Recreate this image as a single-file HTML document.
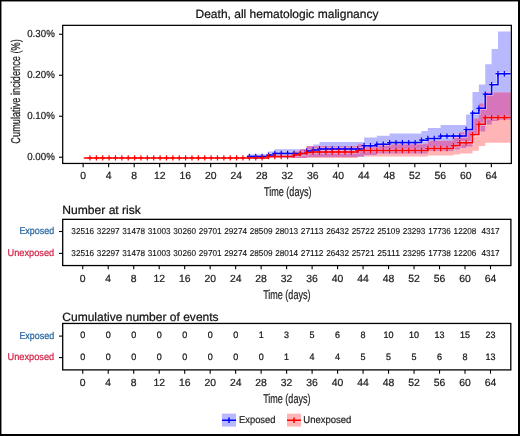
<!DOCTYPE html>
<html><head><meta charset="utf-8"><style>
html,body{margin:0;padding:0;background:#fff;}
body{width:520px;height:436px;overflow:hidden;position:relative;}
svg{position:absolute;left:0;top:0;font-family:'Liberation Sans',sans-serif;will-change:transform;}
svg text{font-family:'Liberation Sans',sans-serif;text-rendering:geometricPrecision;}
</style></head><body>
<svg width="520" height="436" viewBox="0 0 520 436">
<rect x="0" y="0" width="520" height="436" fill="#fff"/>
<path d="M248.80,154.20 L268.48,154.20 L268.48,151.60 L274.85,151.60 L274.85,149.30 L306.73,149.30 L306.73,146.30 L313.10,146.30 L313.10,144.40 L319.48,144.40 L319.48,142.00 L364.10,142.00 L364.10,137.60 L376.85,137.60 L376.85,135.70 L389.60,135.70 L389.60,133.40 L421.48,133.40 L421.48,131.00 L427.85,131.00 L427.85,127.90 L440.60,127.90 L440.60,125.10 L453.35,125.10 L453.35,125.10 L459.73,125.10 L459.73,125.10 L466.10,125.10 L466.10,114.60 L472.48,114.60 L472.48,92.10 L478.85,92.10 L478.85,84.40 L485.23,84.40 L485.23,64.20 L491.60,64.20 L491.60,49.10 L497.98,49.10 L497.98,31.50 L510.60,31.50 L510.60,119.90 L497.98,119.90 L497.98,120.90 L491.60,120.90 L491.60,124.40 L485.23,124.40 L485.23,131.60 L478.85,131.60 L478.85,134.30 L472.48,134.30 L472.48,146.50 L466.10,146.50 L466.10,148.00 L459.73,148.00 L459.73,149.50 L453.35,149.50 L453.35,151.00 L440.60,151.00 L440.60,151.00 L427.85,151.00 L427.85,153.60 L421.48,153.60 L421.48,153.60 L389.60,153.60 L389.60,153.60 L376.85,153.60 L376.85,155.00 L364.10,155.00 L364.10,157.00 L319.48,157.00 L319.48,157.00 L313.10,157.00 L313.10,157.00 L306.73,157.00 L306.73,157.90 L274.85,157.90 L274.85,157.90 L268.48,157.90 L268.48,157.90 L248.80,157.90Z" fill="rgb(184,184,255)"/>
<path d="M268.48,154.80 L293.98,154.80 L293.98,151.20 L300.35,151.20 L300.35,149.30 L306.73,149.30 L306.73,146.30 L357.73,146.30 L357.73,144.20 L364.10,144.20 L364.10,145.00 L389.60,145.00 L389.60,143.80 L427.85,143.80 L427.85,140.70 L453.35,140.70 L453.35,137.20 L459.73,137.20 L459.73,132.20 L466.10,132.20 L466.10,130.00 L472.48,130.00 L472.48,118.60 L478.85,118.60 L478.85,103.50 L485.23,103.50 L485.23,92.50 L510.60,92.50 L510.60,142.70 L485.23,142.70 L485.23,145.90 L478.85,145.90 L478.85,150.80 L472.48,150.80 L472.48,153.50 L466.10,153.50 L466.10,153.50 L459.73,153.50 L459.73,154.60 L453.35,154.60 L453.35,155.60 L427.85,155.60 L427.85,156.60 L389.60,156.60 L389.60,156.60 L364.10,156.60 L364.10,156.60 L357.73,156.60 L357.73,157.90 L306.73,157.90 L306.73,157.90 L300.35,157.90 L300.35,157.90 L293.98,157.90 L293.98,157.90 L268.48,157.90Z" fill="rgb(255,181,181)"/>
<path d="M268.48,154.80H274.85V157.90H268.48ZM274.85,154.80H293.98V157.90H274.85ZM293.98,151.20H300.35V157.90H293.98ZM300.35,149.30H306.73V157.90H300.35ZM306.73,146.30H313.10V157.00H306.73ZM313.10,146.30H319.48V157.00H313.10ZM319.48,146.30H357.73V157.00H319.48ZM357.73,144.20H364.10V156.60H357.73ZM364.10,145.00H376.85V155.00H364.10ZM376.85,145.00H389.60V153.60H376.85ZM389.60,143.80H421.48V153.60H389.60ZM421.48,143.80H427.85V153.60H421.48ZM427.85,140.70H440.60V151.00H427.85ZM440.60,140.70H453.35V151.00H440.60ZM453.35,137.20H459.73V149.50H453.35ZM459.73,132.20H466.10V148.00H459.73ZM466.10,130.00H472.48V146.50H466.10ZM472.48,118.60H478.85V134.30H472.48ZM478.85,103.50H485.23V131.60H478.85ZM485.23,92.50H491.60V124.40H485.23ZM491.60,92.50H497.98V120.90H491.60ZM497.98,92.50H510.60V119.90H497.98Z" fill="rgb(214,117,186)"/>
<path d="M247.00,156.40H268.48V155.10H274.85V153.40H306.73V151.00H313.10V150.00H319.48V149.00H364.10V145.70H376.85V144.30H389.60V142.60H421.48V140.20H427.85V138.50H440.60V136.10H466.10V129.50H472.48V113.20H478.85V108.30H485.23V94.20H491.60V84.70H497.98V73.70H510.60" fill="none" stroke="#fff" stroke-opacity="0.35" stroke-width="3.6"/>
<path d="M83.80,157.90H268.48V156.50H293.98V155.00H300.35V153.60H306.73V152.50H313.10V152.00H357.73V150.50H427.85V148.50H453.35V145.60H459.73V142.70H472.48V134.60H478.85V124.30H485.23V117.60H510.60" fill="none" stroke="#fff" stroke-opacity="0.35" stroke-width="3.6"/>
<path d="M247.00,156.40H268.48V155.10H274.85V153.40H306.73V151.00H313.10V150.00H319.48V149.00H364.10V145.70H376.85V144.30H389.60V142.60H421.48V140.20H427.85V138.50H440.60V136.10H466.10V129.50H472.48V113.20H478.85V108.30H485.23V94.20H491.60V84.70H497.98V73.70H510.60" fill="none" stroke="#0000ff" stroke-width="1.5"/>
<path d="M83.80,157.90H268.48V156.50H293.98V155.00H300.35V153.60H306.73V152.50H313.10V152.00H357.73V150.50H427.85V148.50H453.35V145.60H459.73V142.70H472.48V134.60H478.85V124.30H485.23V117.60H510.60" fill="none" stroke="#ff0000" stroke-width="1.5"/>
<path d="M249.35,153.70V159.10M246.85,156.40H251.85M255.72,153.70V159.10M253.22,156.40H258.23M262.10,153.70V159.10M259.60,156.40H264.60M268.48,152.40V157.80M265.98,155.10H270.98M274.85,150.70V156.10M272.35,153.40H277.35M281.23,150.70V156.10M278.73,153.40H283.73M287.60,150.70V156.10M285.10,153.40H290.10M293.98,150.70V156.10M291.48,153.40H296.48M300.35,150.70V156.10M297.85,153.40H302.85M306.73,148.30V153.70M304.23,151.00H309.23M313.10,147.30V152.70M310.60,150.00H315.60M319.48,146.30V151.70M316.98,149.00H321.98M325.85,146.30V151.70M323.35,149.00H328.35M332.23,146.30V151.70M329.73,149.00H334.73M338.60,146.30V151.70M336.10,149.00H341.10M344.98,146.30V151.70M342.48,149.00H347.48M351.35,146.30V151.70M348.85,149.00H353.85M357.73,146.30V151.70M355.23,149.00H360.23M364.10,143.00V148.40M361.60,145.70H366.60M370.48,143.00V148.40M367.98,145.70H372.98M376.85,141.60V147.00M374.35,144.30H379.35M383.23,141.60V147.00M380.73,144.30H385.73M389.60,139.90V145.30M387.10,142.60H392.10M395.98,139.90V145.30M393.48,142.60H398.48M402.35,139.90V145.30M399.85,142.60H404.85M408.73,139.90V145.30M406.23,142.60H411.23M415.10,139.90V145.30M412.60,142.60H417.60M421.48,137.50V142.90M418.98,140.20H423.98M427.85,135.80V141.20M425.35,138.50H430.35M434.23,135.80V141.20M431.73,138.50H436.73M440.60,133.40V138.80M438.10,136.10H443.10M446.98,133.40V138.80M444.48,136.10H449.48M453.35,133.40V138.80M450.85,136.10H455.85M459.73,133.40V138.80M457.23,136.10H462.23M466.10,126.80V132.20M463.60,129.50H468.60M472.48,110.50V115.90M469.98,113.20H474.98M478.85,105.60V111.00M476.35,108.30H481.35M485.23,91.50V96.90M482.73,94.20H487.73M491.60,82.00V87.40M489.10,84.70H494.10M497.98,71.00V76.40M495.48,73.70H500.48M504.35,71.00V76.40M501.85,73.70H506.85" stroke="#0000ff" stroke-width="1.2" fill="none"/>
<path d="M89.97,155.20V160.60M87.47,157.90H92.47M96.35,155.20V160.60M93.85,157.90H98.85M102.72,155.20V160.60M100.22,157.90H105.22M109.10,155.20V160.60M106.60,157.90H111.60M115.47,155.20V160.60M112.97,157.90H117.97M121.85,155.20V160.60M119.35,157.90H124.35M128.22,155.20V160.60M125.72,157.90H130.72M134.60,155.20V160.60M132.10,157.90H137.10M140.97,155.20V160.60M138.47,157.90H143.47M147.35,155.20V160.60M144.85,157.90H149.85M153.72,155.20V160.60M151.22,157.90H156.22M160.10,155.20V160.60M157.60,157.90H162.60M166.47,155.20V160.60M163.97,157.90H168.97M172.85,155.20V160.60M170.35,157.90H175.35M179.22,155.20V160.60M176.72,157.90H181.72M185.60,155.20V160.60M183.10,157.90H188.10M191.97,155.20V160.60M189.47,157.90H194.47M198.35,155.20V160.60M195.85,157.90H200.85M204.72,155.20V160.60M202.22,157.90H207.22M211.10,155.20V160.60M208.60,157.90H213.60M217.47,155.20V160.60M214.97,157.90H219.97M223.85,155.20V160.60M221.35,157.90H226.35M230.22,155.20V160.60M227.72,157.90H232.72M236.60,155.20V160.60M234.10,157.90H239.10M242.97,155.20V160.60M240.47,157.90H245.47M249.35,155.20V160.60M246.85,157.90H251.85M255.72,155.20V160.60M253.22,157.90H258.23M262.10,155.20V160.60M259.60,157.90H264.60M268.48,153.80V159.20M265.98,156.50H270.98M274.85,153.80V159.20M272.35,156.50H277.35M281.23,153.80V159.20M278.73,156.50H283.73M287.60,153.80V159.20M285.10,156.50H290.10M293.98,152.30V157.70M291.48,155.00H296.48M300.35,150.90V156.30M297.85,153.60H302.85M306.73,149.80V155.20M304.23,152.50H309.23M313.10,149.30V154.70M310.60,152.00H315.60M319.48,149.30V154.70M316.98,152.00H321.98M325.85,149.30V154.70M323.35,152.00H328.35M332.23,149.30V154.70M329.73,152.00H334.73M338.60,149.30V154.70M336.10,152.00H341.10M344.98,149.30V154.70M342.48,152.00H347.48M351.35,149.30V154.70M348.85,152.00H353.85M357.73,147.80V153.20M355.23,150.50H360.23M364.10,147.80V153.20M361.60,150.50H366.60M370.48,147.80V153.20M367.98,150.50H372.98M376.85,147.80V153.20M374.35,150.50H379.35M383.23,147.80V153.20M380.73,150.50H385.73M389.60,147.80V153.20M387.10,150.50H392.10M395.98,147.80V153.20M393.48,150.50H398.48M402.35,147.80V153.20M399.85,150.50H404.85M408.73,147.80V153.20M406.23,150.50H411.23M415.10,147.80V153.20M412.60,150.50H417.60M421.48,147.80V153.20M418.98,150.50H423.98M427.85,145.80V151.20M425.35,148.50H430.35M434.23,145.80V151.20M431.73,148.50H436.73M440.60,145.80V151.20M438.10,148.50H443.10M446.98,145.80V151.20M444.48,148.50H449.48M453.35,142.90V148.30M450.85,145.60H455.85M459.73,140.00V145.40M457.23,142.70H462.23M466.10,140.00V145.40M463.60,142.70H468.60M472.48,131.90V137.30M469.98,134.60H474.98M478.85,121.60V127.00M476.35,124.30H481.35M485.23,114.90V120.30M482.73,117.60H487.73M491.60,114.90V120.30M489.10,117.60H494.10M497.98,114.90V120.30M495.48,117.60H500.48M504.35,114.90V120.30M501.85,117.60H506.85" stroke="#ff0000" stroke-width="1.2" fill="none"/>
<text x="287" y="17.6" font-size="11.95" text-anchor="middle" fill="#111" stroke="#111" stroke-width="0.22" textLength="183" lengthAdjust="spacingAndGlyphs" >Death, all hematologic malignancy</text>
<text transform="translate(20.0,91.45) rotate(-90)" x="0" y="0" font-size="12.8" text-anchor="middle" fill="#222" stroke="#222" stroke-width="0.22" textLength="104.4" lengthAdjust="spacingAndGlyphs">Cumulative incidence (%)</text>
<text x="54.8" y="160.25" font-size="10.2" text-anchor="end" fill="#222" stroke="#222" stroke-width="0.22" textLength="27.6" lengthAdjust="spacingAndGlyphs" >0.00%</text>
<path d="M59,157.25H62.6" stroke="#000" stroke-width="1.1"/>
<text x="54.8" y="119.25" font-size="10.2" text-anchor="end" fill="#222" stroke="#222" stroke-width="0.22" textLength="27.6" lengthAdjust="spacingAndGlyphs" >0.10%</text>
<path d="M59,116.25H62.6" stroke="#000" stroke-width="1.1"/>
<text x="54.8" y="78.25" font-size="10.2" text-anchor="end" fill="#222" stroke="#222" stroke-width="0.22" textLength="27.6" lengthAdjust="spacingAndGlyphs" >0.20%</text>
<path d="M59,75.25H62.6" stroke="#000" stroke-width="1.1"/>
<text x="54.8" y="37.25" font-size="10.2" text-anchor="end" fill="#222" stroke="#222" stroke-width="0.22" textLength="27.6" lengthAdjust="spacingAndGlyphs" >0.30%</text>
<path d="M59,34.25H62.6" stroke="#000" stroke-width="1.1"/>
<rect x="62.7" y="25.35" width="448.65" height="138.1" fill="none" stroke="#000" stroke-width="1.25"/>
<path d="M83.15,163.50V167.30" stroke="#000" stroke-width="1.1"/>
<text x="83.15" y="178.7" font-size="10.4" text-anchor="middle" fill="#222" stroke="#222" stroke-width="0.22" >0</text>
<path d="M108.66,163.50V167.30" stroke="#000" stroke-width="1.1"/>
<text x="108.66" y="178.7" font-size="10.4" text-anchor="middle" fill="#222" stroke="#222" stroke-width="0.22" >4</text>
<path d="M134.18,163.50V167.30" stroke="#000" stroke-width="1.1"/>
<text x="134.18" y="178.7" font-size="10.4" text-anchor="middle" fill="#222" stroke="#222" stroke-width="0.22" >8</text>
<path d="M159.69,163.50V167.30" stroke="#000" stroke-width="1.1"/>
<text x="159.69" y="178.7" font-size="10.4" text-anchor="middle" fill="#222" stroke="#222" stroke-width="0.22" >12</text>
<path d="M185.20,163.50V167.30" stroke="#000" stroke-width="1.1"/>
<text x="185.2" y="178.7" font-size="10.4" text-anchor="middle" fill="#222" stroke="#222" stroke-width="0.22" >16</text>
<path d="M210.71,163.50V167.30" stroke="#000" stroke-width="1.1"/>
<text x="210.71" y="178.7" font-size="10.4" text-anchor="middle" fill="#222" stroke="#222" stroke-width="0.22" >20</text>
<path d="M236.23,163.50V167.30" stroke="#000" stroke-width="1.1"/>
<text x="236.23" y="178.7" font-size="10.4" text-anchor="middle" fill="#222" stroke="#222" stroke-width="0.22" >24</text>
<path d="M261.74,163.50V167.30" stroke="#000" stroke-width="1.1"/>
<text x="261.74" y="178.7" font-size="10.4" text-anchor="middle" fill="#222" stroke="#222" stroke-width="0.22" >28</text>
<path d="M287.25,163.50V167.30" stroke="#000" stroke-width="1.1"/>
<text x="287.25" y="178.7" font-size="10.4" text-anchor="middle" fill="#222" stroke="#222" stroke-width="0.22" >32</text>
<path d="M312.76,163.50V167.30" stroke="#000" stroke-width="1.1"/>
<text x="312.76" y="178.7" font-size="10.4" text-anchor="middle" fill="#222" stroke="#222" stroke-width="0.22" >36</text>
<path d="M338.28,163.50V167.30" stroke="#000" stroke-width="1.1"/>
<text x="338.28" y="178.7" font-size="10.4" text-anchor="middle" fill="#222" stroke="#222" stroke-width="0.22" >40</text>
<path d="M363.79,163.50V167.30" stroke="#000" stroke-width="1.1"/>
<text x="363.79" y="178.7" font-size="10.4" text-anchor="middle" fill="#222" stroke="#222" stroke-width="0.22" >44</text>
<path d="M389.30,163.50V167.30" stroke="#000" stroke-width="1.1"/>
<text x="389.3" y="178.7" font-size="10.4" text-anchor="middle" fill="#222" stroke="#222" stroke-width="0.22" >48</text>
<path d="M414.81,163.50V167.30" stroke="#000" stroke-width="1.1"/>
<text x="414.81" y="178.7" font-size="10.4" text-anchor="middle" fill="#222" stroke="#222" stroke-width="0.22" >52</text>
<path d="M440.33,163.50V167.30" stroke="#000" stroke-width="1.1"/>
<text x="440.33" y="178.7" font-size="10.4" text-anchor="middle" fill="#222" stroke="#222" stroke-width="0.22" >56</text>
<path d="M465.84,163.50V167.30" stroke="#000" stroke-width="1.1"/>
<text x="465.84" y="178.7" font-size="10.4" text-anchor="middle" fill="#222" stroke="#222" stroke-width="0.22" >60</text>
<path d="M491.35,163.50V167.30" stroke="#000" stroke-width="1.1"/>
<text x="491.35" y="178.7" font-size="10.4" text-anchor="middle" fill="#222" stroke="#222" stroke-width="0.22" >64</text>
<text x="287.75" y="195.6" font-size="12.8" text-anchor="middle" fill="#222" stroke="#222" stroke-width="0.22" textLength="47.6" lengthAdjust="spacingAndGlyphs" >Time (days)</text>
<text x="62.3" y="213.8" font-size="11.92" text-anchor="start" fill="#111" stroke="#111" stroke-width="0.22" textLength="78.6" lengthAdjust="spacingAndGlyphs" >Number at risk</text>
<rect x="62.7" y="219.35" width="448.2" height="46.2" fill="none" stroke="#000" stroke-width="1.3"/>
<text x="54.2" y="234.3" font-size="9.8" text-anchor="end" fill="rgb(35,100,160)" stroke="rgb(35,100,160)" stroke-width="0.22" textLength="34.8" lengthAdjust="spacingAndGlyphs" >Exposed</text>
<path d="M59,231.5H62.6" stroke="#000" stroke-width="1.1"/>
<text x="54.2" y="256.2" font-size="9.8" text-anchor="end" fill="rgb(210,30,70)" stroke="rgb(210,30,70)" stroke-width="0.22" textLength="46.6" lengthAdjust="spacingAndGlyphs" >Unexposed</text>
<path d="M59,253.4H62.6" stroke="#000" stroke-width="1.1"/>
<text x="82.75" y="234.35" font-size="8.6" text-anchor="middle" fill="#111" stroke="#111" stroke-width="0.12" textLength="22.8" lengthAdjust="spacingAndGlyphs" >32516</text>
<text x="82.75" y="256.1" font-size="8.6" text-anchor="middle" fill="#111" stroke="#111" stroke-width="0.12" textLength="22.8" lengthAdjust="spacingAndGlyphs" >32516</text>
<text x="108.23" y="234.35" font-size="8.6" text-anchor="middle" fill="#111" stroke="#111" stroke-width="0.12" textLength="22.8" lengthAdjust="spacingAndGlyphs" >32297</text>
<text x="108.23" y="256.1" font-size="8.6" text-anchor="middle" fill="#111" stroke="#111" stroke-width="0.12" textLength="22.8" lengthAdjust="spacingAndGlyphs" >32297</text>
<text x="133.72" y="234.35" font-size="8.6" text-anchor="middle" fill="#111" stroke="#111" stroke-width="0.12" textLength="22.8" lengthAdjust="spacingAndGlyphs" >31478</text>
<text x="133.72" y="256.1" font-size="8.6" text-anchor="middle" fill="#111" stroke="#111" stroke-width="0.12" textLength="22.8" lengthAdjust="spacingAndGlyphs" >31478</text>
<text x="159.2" y="234.35" font-size="8.6" text-anchor="middle" fill="#111" stroke="#111" stroke-width="0.12" textLength="22.8" lengthAdjust="spacingAndGlyphs" >31003</text>
<text x="159.2" y="256.1" font-size="8.6" text-anchor="middle" fill="#111" stroke="#111" stroke-width="0.12" textLength="22.8" lengthAdjust="spacingAndGlyphs" >31003</text>
<text x="184.69" y="234.35" font-size="8.6" text-anchor="middle" fill="#111" stroke="#111" stroke-width="0.12" textLength="22.8" lengthAdjust="spacingAndGlyphs" >30260</text>
<text x="184.69" y="256.1" font-size="8.6" text-anchor="middle" fill="#111" stroke="#111" stroke-width="0.12" textLength="22.8" lengthAdjust="spacingAndGlyphs" >30260</text>
<text x="210.17" y="234.35" font-size="8.6" text-anchor="middle" fill="#111" stroke="#111" stroke-width="0.12" textLength="22.8" lengthAdjust="spacingAndGlyphs" >29701</text>
<text x="210.17" y="256.1" font-size="8.6" text-anchor="middle" fill="#111" stroke="#111" stroke-width="0.12" textLength="22.8" lengthAdjust="spacingAndGlyphs" >29701</text>
<text x="235.66" y="234.35" font-size="8.6" text-anchor="middle" fill="#111" stroke="#111" stroke-width="0.12" textLength="22.8" lengthAdjust="spacingAndGlyphs" >29274</text>
<text x="235.66" y="256.1" font-size="8.6" text-anchor="middle" fill="#111" stroke="#111" stroke-width="0.12" textLength="22.8" lengthAdjust="spacingAndGlyphs" >29274</text>
<text x="261.14" y="234.35" font-size="8.6" text-anchor="middle" fill="#111" stroke="#111" stroke-width="0.12" textLength="22.8" lengthAdjust="spacingAndGlyphs" >28509</text>
<text x="261.14" y="256.1" font-size="8.6" text-anchor="middle" fill="#111" stroke="#111" stroke-width="0.12" textLength="22.8" lengthAdjust="spacingAndGlyphs" >28509</text>
<text x="286.62" y="234.35" font-size="8.6" text-anchor="middle" fill="#111" stroke="#111" stroke-width="0.12" textLength="22.8" lengthAdjust="spacingAndGlyphs" >28013</text>
<text x="286.62" y="256.1" font-size="8.6" text-anchor="middle" fill="#111" stroke="#111" stroke-width="0.12" textLength="22.8" lengthAdjust="spacingAndGlyphs" >28014</text>
<text x="312.11" y="234.35" font-size="8.6" text-anchor="middle" fill="#111" stroke="#111" stroke-width="0.12" textLength="22.8" lengthAdjust="spacingAndGlyphs" >27113</text>
<text x="312.11" y="256.1" font-size="8.6" text-anchor="middle" fill="#111" stroke="#111" stroke-width="0.12" textLength="22.8" lengthAdjust="spacingAndGlyphs" >27112</text>
<text x="337.59" y="234.35" font-size="8.6" text-anchor="middle" fill="#111" stroke="#111" stroke-width="0.12" textLength="22.8" lengthAdjust="spacingAndGlyphs" >26432</text>
<text x="337.59" y="256.1" font-size="8.6" text-anchor="middle" fill="#111" stroke="#111" stroke-width="0.12" textLength="22.8" lengthAdjust="spacingAndGlyphs" >26432</text>
<text x="363.08" y="234.35" font-size="8.6" text-anchor="middle" fill="#111" stroke="#111" stroke-width="0.12" textLength="22.8" lengthAdjust="spacingAndGlyphs" >25722</text>
<text x="363.08" y="256.1" font-size="8.6" text-anchor="middle" fill="#111" stroke="#111" stroke-width="0.12" textLength="22.8" lengthAdjust="spacingAndGlyphs" >25721</text>
<text x="388.56" y="234.35" font-size="8.6" text-anchor="middle" fill="#111" stroke="#111" stroke-width="0.12" textLength="22.8" lengthAdjust="spacingAndGlyphs" >25109</text>
<text x="388.56" y="256.1" font-size="8.6" text-anchor="middle" fill="#111" stroke="#111" stroke-width="0.12" textLength="22.8" lengthAdjust="spacingAndGlyphs" >25111</text>
<text x="414.05" y="234.35" font-size="8.6" text-anchor="middle" fill="#111" stroke="#111" stroke-width="0.12" textLength="22.8" lengthAdjust="spacingAndGlyphs" >23293</text>
<text x="414.05" y="256.1" font-size="8.6" text-anchor="middle" fill="#111" stroke="#111" stroke-width="0.12" textLength="22.8" lengthAdjust="spacingAndGlyphs" >23295</text>
<text x="439.53" y="234.35" font-size="8.6" text-anchor="middle" fill="#111" stroke="#111" stroke-width="0.12" textLength="22.8" lengthAdjust="spacingAndGlyphs" >17736</text>
<text x="439.53" y="256.1" font-size="8.6" text-anchor="middle" fill="#111" stroke="#111" stroke-width="0.12" textLength="22.8" lengthAdjust="spacingAndGlyphs" >17738</text>
<text x="465.02" y="234.35" font-size="8.6" text-anchor="middle" fill="#111" stroke="#111" stroke-width="0.12" textLength="22.8" lengthAdjust="spacingAndGlyphs" >12208</text>
<text x="465.02" y="256.1" font-size="8.6" text-anchor="middle" fill="#111" stroke="#111" stroke-width="0.12" textLength="22.8" lengthAdjust="spacingAndGlyphs" >12206</text>
<text x="490.5" y="234.35" font-size="8.6" text-anchor="middle" fill="#111" stroke="#111" stroke-width="0.12" textLength="18.24" lengthAdjust="spacingAndGlyphs" >4317</text>
<text x="490.5" y="256.1" font-size="8.6" text-anchor="middle" fill="#111" stroke="#111" stroke-width="0.12" textLength="18.24" lengthAdjust="spacingAndGlyphs" >4317</text>
<path d="M82.75,265.50V269.30" stroke="#000" stroke-width="1.1"/>
<text x="82.75" y="282.0" font-size="10.4" text-anchor="middle" fill="#222" stroke="#222" stroke-width="0.22" >0</text>
<path d="M108.23,265.50V269.30" stroke="#000" stroke-width="1.1"/>
<text x="108.23" y="282.0" font-size="10.4" text-anchor="middle" fill="#222" stroke="#222" stroke-width="0.22" >4</text>
<path d="M133.72,265.50V269.30" stroke="#000" stroke-width="1.1"/>
<text x="133.72" y="282.0" font-size="10.4" text-anchor="middle" fill="#222" stroke="#222" stroke-width="0.22" >8</text>
<path d="M159.20,265.50V269.30" stroke="#000" stroke-width="1.1"/>
<text x="159.2" y="282.0" font-size="10.4" text-anchor="middle" fill="#222" stroke="#222" stroke-width="0.22" >12</text>
<path d="M184.69,265.50V269.30" stroke="#000" stroke-width="1.1"/>
<text x="184.69" y="282.0" font-size="10.4" text-anchor="middle" fill="#222" stroke="#222" stroke-width="0.22" >16</text>
<path d="M210.17,265.50V269.30" stroke="#000" stroke-width="1.1"/>
<text x="210.17" y="282.0" font-size="10.4" text-anchor="middle" fill="#222" stroke="#222" stroke-width="0.22" >20</text>
<path d="M235.66,265.50V269.30" stroke="#000" stroke-width="1.1"/>
<text x="235.66" y="282.0" font-size="10.4" text-anchor="middle" fill="#222" stroke="#222" stroke-width="0.22" >24</text>
<path d="M261.14,265.50V269.30" stroke="#000" stroke-width="1.1"/>
<text x="261.14" y="282.0" font-size="10.4" text-anchor="middle" fill="#222" stroke="#222" stroke-width="0.22" >28</text>
<path d="M286.62,265.50V269.30" stroke="#000" stroke-width="1.1"/>
<text x="286.62" y="282.0" font-size="10.4" text-anchor="middle" fill="#222" stroke="#222" stroke-width="0.22" >32</text>
<path d="M312.11,265.50V269.30" stroke="#000" stroke-width="1.1"/>
<text x="312.11" y="282.0" font-size="10.4" text-anchor="middle" fill="#222" stroke="#222" stroke-width="0.22" >36</text>
<path d="M337.59,265.50V269.30" stroke="#000" stroke-width="1.1"/>
<text x="337.59" y="282.0" font-size="10.4" text-anchor="middle" fill="#222" stroke="#222" stroke-width="0.22" >40</text>
<path d="M363.08,265.50V269.30" stroke="#000" stroke-width="1.1"/>
<text x="363.08" y="282.0" font-size="10.4" text-anchor="middle" fill="#222" stroke="#222" stroke-width="0.22" >44</text>
<path d="M388.56,265.50V269.30" stroke="#000" stroke-width="1.1"/>
<text x="388.56" y="282.0" font-size="10.4" text-anchor="middle" fill="#222" stroke="#222" stroke-width="0.22" >48</text>
<path d="M414.05,265.50V269.30" stroke="#000" stroke-width="1.1"/>
<text x="414.05" y="282.0" font-size="10.4" text-anchor="middle" fill="#222" stroke="#222" stroke-width="0.22" >52</text>
<path d="M439.53,265.50V269.30" stroke="#000" stroke-width="1.1"/>
<text x="439.53" y="282.0" font-size="10.4" text-anchor="middle" fill="#222" stroke="#222" stroke-width="0.22" >56</text>
<path d="M465.02,265.50V269.30" stroke="#000" stroke-width="1.1"/>
<text x="465.02" y="282.0" font-size="10.4" text-anchor="middle" fill="#222" stroke="#222" stroke-width="0.22" >60</text>
<path d="M490.50,265.50V269.30" stroke="#000" stroke-width="1.1"/>
<text x="490.5" y="282.0" font-size="10.4" text-anchor="middle" fill="#222" stroke="#222" stroke-width="0.22" >64</text>
<text x="286.8" y="298.6" font-size="12.8" text-anchor="middle" fill="#222" stroke="#222" stroke-width="0.22" textLength="47.3" lengthAdjust="spacingAndGlyphs" >Time (days)</text>
<text x="62.3" y="320.6" font-size="11.94" text-anchor="start" fill="#111" stroke="#111" stroke-width="0.22" textLength="156.3" lengthAdjust="spacingAndGlyphs" >Cumulative number of events</text>
<rect x="62.7" y="323.45" width="448.1" height="46.45" fill="none" stroke="#000" stroke-width="1.3"/>
<text x="54.2" y="338.9" font-size="9.8" text-anchor="end" fill="rgb(35,100,160)" stroke="rgb(35,100,160)" stroke-width="0.22" textLength="34.8" lengthAdjust="spacingAndGlyphs" >Exposed</text>
<path d="M59,336.1H62.6" stroke="#000" stroke-width="1.1"/>
<text x="54.2" y="360.4" font-size="9.8" text-anchor="end" fill="rgb(210,30,70)" stroke="rgb(210,30,70)" stroke-width="0.22" textLength="46.6" lengthAdjust="spacingAndGlyphs" >Unexposed</text>
<path d="M59,357.6H62.6" stroke="#000" stroke-width="1.1"/>
<text x="82.75" y="338.2" font-size="9.3" text-anchor="middle" fill="#111" stroke="#111" stroke-width="0.22" textLength="5.0" lengthAdjust="spacingAndGlyphs" >0</text>
<text x="82.75" y="360.3" font-size="9.3" text-anchor="middle" fill="#111" stroke="#111" stroke-width="0.22" textLength="5.0" lengthAdjust="spacingAndGlyphs" >0</text>
<text x="108.23" y="338.2" font-size="9.3" text-anchor="middle" fill="#111" stroke="#111" stroke-width="0.22" textLength="5.0" lengthAdjust="spacingAndGlyphs" >0</text>
<text x="108.23" y="360.3" font-size="9.3" text-anchor="middle" fill="#111" stroke="#111" stroke-width="0.22" textLength="5.0" lengthAdjust="spacingAndGlyphs" >0</text>
<text x="133.72" y="338.2" font-size="9.3" text-anchor="middle" fill="#111" stroke="#111" stroke-width="0.22" textLength="5.0" lengthAdjust="spacingAndGlyphs" >0</text>
<text x="133.72" y="360.3" font-size="9.3" text-anchor="middle" fill="#111" stroke="#111" stroke-width="0.22" textLength="5.0" lengthAdjust="spacingAndGlyphs" >0</text>
<text x="159.2" y="338.2" font-size="9.3" text-anchor="middle" fill="#111" stroke="#111" stroke-width="0.22" textLength="5.0" lengthAdjust="spacingAndGlyphs" >0</text>
<text x="159.2" y="360.3" font-size="9.3" text-anchor="middle" fill="#111" stroke="#111" stroke-width="0.22" textLength="5.0" lengthAdjust="spacingAndGlyphs" >0</text>
<text x="184.69" y="338.2" font-size="9.3" text-anchor="middle" fill="#111" stroke="#111" stroke-width="0.22" textLength="5.0" lengthAdjust="spacingAndGlyphs" >0</text>
<text x="184.69" y="360.3" font-size="9.3" text-anchor="middle" fill="#111" stroke="#111" stroke-width="0.22" textLength="5.0" lengthAdjust="spacingAndGlyphs" >0</text>
<text x="210.17" y="338.2" font-size="9.3" text-anchor="middle" fill="#111" stroke="#111" stroke-width="0.22" textLength="5.0" lengthAdjust="spacingAndGlyphs" >0</text>
<text x="210.17" y="360.3" font-size="9.3" text-anchor="middle" fill="#111" stroke="#111" stroke-width="0.22" textLength="5.0" lengthAdjust="spacingAndGlyphs" >0</text>
<text x="235.66" y="338.2" font-size="9.3" text-anchor="middle" fill="#111" stroke="#111" stroke-width="0.22" textLength="5.0" lengthAdjust="spacingAndGlyphs" >0</text>
<text x="235.66" y="360.3" font-size="9.3" text-anchor="middle" fill="#111" stroke="#111" stroke-width="0.22" textLength="5.0" lengthAdjust="spacingAndGlyphs" >0</text>
<text x="261.14" y="338.2" font-size="9.3" text-anchor="middle" fill="#111" stroke="#111" stroke-width="0.22" textLength="5.0" lengthAdjust="spacingAndGlyphs" >1</text>
<text x="261.14" y="360.3" font-size="9.3" text-anchor="middle" fill="#111" stroke="#111" stroke-width="0.22" textLength="5.0" lengthAdjust="spacingAndGlyphs" >0</text>
<text x="286.62" y="338.2" font-size="9.3" text-anchor="middle" fill="#111" stroke="#111" stroke-width="0.22" textLength="5.0" lengthAdjust="spacingAndGlyphs" >3</text>
<text x="286.62" y="360.3" font-size="9.3" text-anchor="middle" fill="#111" stroke="#111" stroke-width="0.22" textLength="5.0" lengthAdjust="spacingAndGlyphs" >1</text>
<text x="312.11" y="338.2" font-size="9.3" text-anchor="middle" fill="#111" stroke="#111" stroke-width="0.22" textLength="5.0" lengthAdjust="spacingAndGlyphs" >5</text>
<text x="312.11" y="360.3" font-size="9.3" text-anchor="middle" fill="#111" stroke="#111" stroke-width="0.22" textLength="5.0" lengthAdjust="spacingAndGlyphs" >4</text>
<text x="337.59" y="338.2" font-size="9.3" text-anchor="middle" fill="#111" stroke="#111" stroke-width="0.22" textLength="5.0" lengthAdjust="spacingAndGlyphs" >6</text>
<text x="337.59" y="360.3" font-size="9.3" text-anchor="middle" fill="#111" stroke="#111" stroke-width="0.22" textLength="5.0" lengthAdjust="spacingAndGlyphs" >4</text>
<text x="363.08" y="338.2" font-size="9.3" text-anchor="middle" fill="#111" stroke="#111" stroke-width="0.22" textLength="5.0" lengthAdjust="spacingAndGlyphs" >8</text>
<text x="363.08" y="360.3" font-size="9.3" text-anchor="middle" fill="#111" stroke="#111" stroke-width="0.22" textLength="5.0" lengthAdjust="spacingAndGlyphs" >5</text>
<text x="388.56" y="338.2" font-size="9.3" text-anchor="middle" fill="#111" stroke="#111" stroke-width="0.22" textLength="10.0" lengthAdjust="spacingAndGlyphs" >10</text>
<text x="388.56" y="360.3" font-size="9.3" text-anchor="middle" fill="#111" stroke="#111" stroke-width="0.22" textLength="5.0" lengthAdjust="spacingAndGlyphs" >5</text>
<text x="414.05" y="338.2" font-size="9.3" text-anchor="middle" fill="#111" stroke="#111" stroke-width="0.22" textLength="10.0" lengthAdjust="spacingAndGlyphs" >10</text>
<text x="414.05" y="360.3" font-size="9.3" text-anchor="middle" fill="#111" stroke="#111" stroke-width="0.22" textLength="5.0" lengthAdjust="spacingAndGlyphs" >5</text>
<text x="439.53" y="338.2" font-size="9.3" text-anchor="middle" fill="#111" stroke="#111" stroke-width="0.22" textLength="10.0" lengthAdjust="spacingAndGlyphs" >13</text>
<text x="439.53" y="360.3" font-size="9.3" text-anchor="middle" fill="#111" stroke="#111" stroke-width="0.22" textLength="5.0" lengthAdjust="spacingAndGlyphs" >6</text>
<text x="465.02" y="338.2" font-size="9.3" text-anchor="middle" fill="#111" stroke="#111" stroke-width="0.22" textLength="10.0" lengthAdjust="spacingAndGlyphs" >15</text>
<text x="465.02" y="360.3" font-size="9.3" text-anchor="middle" fill="#111" stroke="#111" stroke-width="0.22" textLength="5.0" lengthAdjust="spacingAndGlyphs" >8</text>
<text x="490.5" y="338.2" font-size="9.3" text-anchor="middle" fill="#111" stroke="#111" stroke-width="0.22" textLength="10.0" lengthAdjust="spacingAndGlyphs" >23</text>
<text x="490.5" y="360.3" font-size="9.3" text-anchor="middle" fill="#111" stroke="#111" stroke-width="0.22" textLength="10.0" lengthAdjust="spacingAndGlyphs" >13</text>
<path d="M82.75,369.90V373.70" stroke="#000" stroke-width="1.1"/>
<text x="82.75" y="385.9" font-size="10.4" text-anchor="middle" fill="#222" stroke="#222" stroke-width="0.22" >0</text>
<path d="M108.23,369.90V373.70" stroke="#000" stroke-width="1.1"/>
<text x="108.23" y="385.9" font-size="10.4" text-anchor="middle" fill="#222" stroke="#222" stroke-width="0.22" >4</text>
<path d="M133.72,369.90V373.70" stroke="#000" stroke-width="1.1"/>
<text x="133.72" y="385.9" font-size="10.4" text-anchor="middle" fill="#222" stroke="#222" stroke-width="0.22" >8</text>
<path d="M159.20,369.90V373.70" stroke="#000" stroke-width="1.1"/>
<text x="159.2" y="385.9" font-size="10.4" text-anchor="middle" fill="#222" stroke="#222" stroke-width="0.22" >12</text>
<path d="M184.69,369.90V373.70" stroke="#000" stroke-width="1.1"/>
<text x="184.69" y="385.9" font-size="10.4" text-anchor="middle" fill="#222" stroke="#222" stroke-width="0.22" >16</text>
<path d="M210.17,369.90V373.70" stroke="#000" stroke-width="1.1"/>
<text x="210.17" y="385.9" font-size="10.4" text-anchor="middle" fill="#222" stroke="#222" stroke-width="0.22" >20</text>
<path d="M235.66,369.90V373.70" stroke="#000" stroke-width="1.1"/>
<text x="235.66" y="385.9" font-size="10.4" text-anchor="middle" fill="#222" stroke="#222" stroke-width="0.22" >24</text>
<path d="M261.14,369.90V373.70" stroke="#000" stroke-width="1.1"/>
<text x="261.14" y="385.9" font-size="10.4" text-anchor="middle" fill="#222" stroke="#222" stroke-width="0.22" >28</text>
<path d="M286.62,369.90V373.70" stroke="#000" stroke-width="1.1"/>
<text x="286.62" y="385.9" font-size="10.4" text-anchor="middle" fill="#222" stroke="#222" stroke-width="0.22" >32</text>
<path d="M312.11,369.90V373.70" stroke="#000" stroke-width="1.1"/>
<text x="312.11" y="385.9" font-size="10.4" text-anchor="middle" fill="#222" stroke="#222" stroke-width="0.22" >36</text>
<path d="M337.59,369.90V373.70" stroke="#000" stroke-width="1.1"/>
<text x="337.59" y="385.9" font-size="10.4" text-anchor="middle" fill="#222" stroke="#222" stroke-width="0.22" >40</text>
<path d="M363.08,369.90V373.70" stroke="#000" stroke-width="1.1"/>
<text x="363.08" y="385.9" font-size="10.4" text-anchor="middle" fill="#222" stroke="#222" stroke-width="0.22" >44</text>
<path d="M388.56,369.90V373.70" stroke="#000" stroke-width="1.1"/>
<text x="388.56" y="385.9" font-size="10.4" text-anchor="middle" fill="#222" stroke="#222" stroke-width="0.22" >48</text>
<path d="M414.05,369.90V373.70" stroke="#000" stroke-width="1.1"/>
<text x="414.05" y="385.9" font-size="10.4" text-anchor="middle" fill="#222" stroke="#222" stroke-width="0.22" >52</text>
<path d="M439.53,369.90V373.70" stroke="#000" stroke-width="1.1"/>
<text x="439.53" y="385.9" font-size="10.4" text-anchor="middle" fill="#222" stroke="#222" stroke-width="0.22" >56</text>
<path d="M465.02,369.90V373.70" stroke="#000" stroke-width="1.1"/>
<text x="465.02" y="385.9" font-size="10.4" text-anchor="middle" fill="#222" stroke="#222" stroke-width="0.22" >60</text>
<path d="M490.50,369.90V373.70" stroke="#000" stroke-width="1.1"/>
<text x="490.5" y="385.9" font-size="10.4" text-anchor="middle" fill="#222" stroke="#222" stroke-width="0.22" >64</text>
<text x="286.8" y="402.6" font-size="12.8" text-anchor="middle" fill="#222" stroke="#222" stroke-width="0.22" textLength="47.3" lengthAdjust="spacingAndGlyphs" >Time (days)</text>
<rect x="221.9" y="413.6" width="14.2" height="13" fill="rgb(0,0,255)" fill-opacity="0.28"/>
<path d="M222,420.2H236M229,417.4V423.0" stroke="#0000ff" stroke-width="1.5"/>
<text x="239.0" y="422.9" font-size="10.0" text-anchor="start" fill="#222" stroke="#222" stroke-width="0.22" textLength="36.5" lengthAdjust="spacingAndGlyphs" >Exposed</text>
<rect x="287" y="413.6" width="14" height="13" fill="rgb(255,0,0)" fill-opacity="0.29"/>
<path d="M287,420.2H301M294,417.4V423.0" stroke="#ff0000" stroke-width="1.5"/>
<text x="303.3" y="422.9" font-size="10.0" text-anchor="start" fill="#222" stroke="#222" stroke-width="0.22" textLength="48.0" lengthAdjust="spacingAndGlyphs" >Unexposed</text>
<rect x="0" y="0" width="520" height="1" fill="#000"/>
<rect x="0" y="1" width="520" height="1" fill="#000" fill-opacity="0.45"/>
<rect x="0" y="0" width="1" height="436" fill="#000"/>
<rect x="1" y="0" width="1" height="436" fill="#000" fill-opacity="0.45"/>
<rect x="518" y="0" width="2" height="436" fill="#000"/>
<rect x="0" y="434" width="520" height="2" fill="#000"/>
</svg>
</body></html>
